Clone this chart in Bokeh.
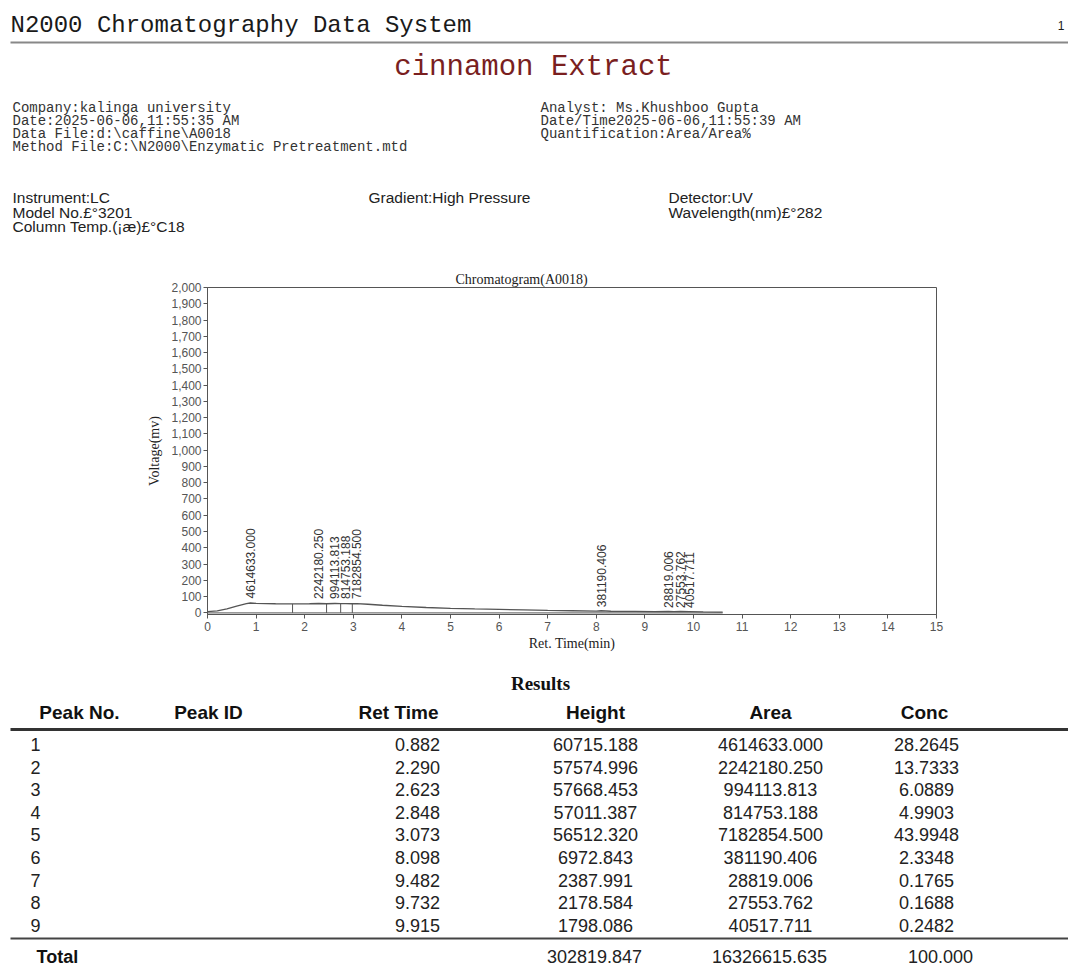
import math
from bokeh.plotting import figure
from bokeh.models import FixedTicker, NumeralTickFormatter, Range1d
from bokeh.embed import file_html
from bokeh.resources import INLINE
from bokeh.core.properties import value

# ---------------- data ----------------
header_title = "N2000 Chromatography Data System"
page_no = "1"
sample_name = "cinnamon Extract"
info_left = ["Company:kalinga university",
             "Date:2025-06-06,11:55:35 AM",
             "Data File:d:\\caffine\\A0018",
             "Method File:C:\\N2000\\Enzymatic Pretreatment.mtd"]
info_right = ["Analyst: Ms.Khushboo Gupta",
              "Date/Time2025-06-06,11:55:39 AM",
              "Quantification:Area/Area%"]
instr_left = ["Instrument:LC", "Model No.\u00a3\u00b03201", "Column Temp.(\u00a1\u00e6)\u00a3\u00b0C18"]
instr_mid = ["Gradient:High Pressure"]
instr_right = ["Detector:UV", "Wavelength(nm)\u00a3\u00b0282"]

chart_title = "Chromatogram(A0018)"
x_label = "Ret. Time(min)"
y_label = "Voltage(mv)"
x_ticks = list(range(0, 16))
y_ticks = list(range(0, 2001, 100))

# chromatogram trace (min, mV)
trace_t = [0.0, 0.2, 0.4, 0.6, 0.8, 0.882, 1.0, 1.4, 1.75, 2.1, 2.29, 2.45, 2.623, 2.74,
           2.848, 2.98, 3.073, 3.3, 3.6, 4.0, 4.5, 5.0, 5.5, 6.0, 6.5, 7.0, 7.5, 8.0,
           8.098, 8.3, 8.8, 9.2, 9.482, 9.6, 9.732, 9.915, 10.2, 10.6]
trace_v = [8, 12, 24, 42, 57, 60.7, 58, 56, 55, 56, 57.6, 56, 57.7, 56.5,
           57.0, 56, 56.5, 53, 47, 40, 33, 28, 24, 21, 18, 15, 13, 11,
           13, 10, 9, 8, 9, 8, 8.5, 8, 6, 5]
baseline_t = [0.0, 10.6]
baseline_v = [0, 0]
boundary_t = [1.75, 2.45, 2.74, 2.98]
boundary_v = [55, 56, 56.5, 56]

table_title = "Results"
col_heads = ["Peak No.", "Peak ID", "Ret Time", "Height", "Area", "Conc"]
peak_no = ["1", "2", "3", "4", "5", "6", "7", "8", "9"]
ret_time = ["0.882", "2.290", "2.623", "2.848", "3.073", "8.098", "9.482", "9.732", "9.915"]
height = ["60715.188", "57574.996", "57668.453", "57011.387", "56512.320",
          "6972.843", "2387.991", "2178.584", "1798.086"]
area = ["4614633.000", "2242180.250", "994113.813", "814753.188", "7182854.500",
        "381190.406", "28819.006", "27553.762", "40517.711"]
conc = ["28.2645", "13.7333", "6.0889", "4.9903", "43.9948", "2.3348", "0.1765", "0.1688", "0.2482"]
total_label = "Total"
total_height = "302819.847"
total_area = "16326615.635"
total_conc = "100.000"

W = 1068
MONO = value("Liberation Mono")
SANS = value("Liberation Sans")
SERIF = value("Liberation Serif")


def blank(h):
    p = figure(width=W, height=h, x_range=Range1d(0, W), y_range=Range1d(h, 0),
               x_axis_location=None, y_axis_location=None, output_backend="svg",
               toolbar_location=None, min_border=0)
    p.grid.visible = False
    p.outline_line_color = None
    return p


# ---------------- header ----------------
H1 = 262
head = blank(H1)
head.text(x=[10], y=[25], text=[header_title], text_font=MONO, text_font_size="24px",
          text_baseline="middle", text_color="#1a1a1a")
head.text(x=[1064], y=[25], text=[page_no], text_font=SANS, text_font_size="12px",
          text_baseline="middle", text_align="right", text_color="#1a1a1a")
head.segment(x0=[10], y0=[42], x1=[1068], y1=[42], line_color="#888888", line_width=2)
head.text(x=[533], y=[67], text=[sample_name], text_font=MONO, text_font_size="29px",
          text_baseline="middle", text_align="center", text_color="#7a1f1f")
ys_info = [107 + 13 * i for i in range(4)]
head.text(x=[12] * len(info_left), y=ys_info[:len(info_left)], text=info_left, text_font=MONO,
          text_font_size="14px", text_baseline="middle", text_color="#333333")
head.text(x=[540] * len(info_right), y=ys_info[:len(info_right)], text=info_right, text_font=MONO,
          text_font_size="14px", text_baseline="middle", text_color="#333333")
ys_instr = [197 + 14.5 * i for i in range(3)]
instr_font = dict(text_font=SANS, text_font_size="15.5px", text_baseline="middle",
                  text_color="#222222")
head.text(x=[12] * len(instr_left), y=ys_instr[:len(instr_left)], text=instr_left, **instr_font)
head.text(x=[368] * len(instr_mid), y=ys_instr[:len(instr_mid)], text=instr_mid, **instr_font)
head.text(x=[668] * len(instr_right), y=ys_instr[:len(instr_right)], text=instr_right, **instr_font)

# ---------------- chromatogram ----------------
H2 = 400
chart = figure(width=W, height=H2, x_range=Range1d(0, 15), y_range=Range1d(-10, 2000),
               output_backend="svg", toolbar_location=None,
               min_border_left=207, min_border_right=132, min_border_top=25, min_border_bottom=48)
chart.grid.visible = False
chart.outline_line_color = "#555555"
chart.title.text = chart_title
chart.title.align = "left"
chart.title.offset = 248
chart.title.text_font = "Liberation Serif"
chart.title.text_font_size = "14px"
chart.title.text_font_style = "normal"
chart.title.text_color = "#222222"
chart.title.standoff = 1

for ax in (chart.xaxis[0], chart.yaxis[0]):
    ax.axis_line_color = "#555555"
    ax.major_tick_line_color = "#555555"
    ax.major_tick_out = 4
    ax.major_tick_in = 0
    ax.minor_tick_line_color = None
    ax.major_label_text_font = "Liberation Sans"
    ax.major_label_text_font_size = "12px"
    ax.major_label_text_color = "#555555"
    ax.axis_label_text_font = "Liberation Serif"
    ax.axis_label_text_font_size = "14px"
    ax.axis_label_text_font_style = "normal"
    ax.axis_label_text_color = "#222222"

chart.xaxis.ticker = FixedTicker(ticks=x_ticks)
chart.yaxis.ticker = FixedTicker(ticks=y_ticks)
chart.yaxis.formatter = NumeralTickFormatter(format="0,0")
chart.xaxis.axis_label = x_label
chart.yaxis.axis_label = y_label
chart.xaxis.major_label_standoff = 3
chart.yaxis.major_label_standoff = 2
chart.xaxis.axis_label_standoff = 2
chart.yaxis.axis_label_standoff = 6

chart.line(baseline_t, baseline_v, line_color="#777777", line_width=1.2)
chart.line(trace_t, trace_v, line_color="#555555", line_width=1.3)
chart.segment(x0=boundary_t, y0=[0] * len(boundary_t), x1=boundary_t, y1=boundary_v,
              line_color="#555555", line_width=1)

lab_x = [float(t) for t in ret_time]
lab_y = [float(h) / 1000.0 + 28 for h in height]
chart.text(x=lab_x, y=lab_y, text=area, angle=math.pi / 2, text_font=SANS,
           text_font_size="12px", text_align="left", text_baseline="middle",
           text_color="#333333")

# ---------------- results table ----------------
H3 = 304
tab = blank(H3)
tab.text(x=[540], y=[21], text=[table_title], text_font=SERIF, text_font_size="19px",
         text_font_style="bold", text_align="center", text_baseline="middle", text_color="#111111")
head_x = [79, 208, 398, 595, 770, 924]
tab.text(x=head_x, y=[50] * len(col_heads), text=col_heads, text_font=SANS, text_font_size="19px",
         text_font_style="bold", text_align="center", text_baseline="middle", text_color="#111111")
tab.segment(x0=[10], y0=[67], x1=[1068], y1=[67], line_color="#333333", line_width=3)
row_y = [82 + 22.6 * i for i in range(len(peak_no))]
n = len(peak_no)
row_font = dict(text_font=SANS, text_font_size="18px", text_align="center",
                text_baseline="middle", text_color="#222222")
tab.text(x=[35] * n, y=row_y, text=peak_no, **row_font)
tab.text(x=[417] * n, y=row_y, text=ret_time, **row_font)
tab.text(x=[595] * n, y=row_y, text=height, **row_font)
tab.text(x=[770] * n, y=row_y, text=area, **row_font)
tab.text(x=[926] * n, y=row_y, text=conc, **row_font)
tab.segment(x0=[10], y0=[276], x1=[1068], y1=[276], line_color="#444444", line_width=2)
tab.text(x=[36], y=[294], text=[total_label], text_font=SANS, text_font_size="18px",
         text_font_style="bold", text_align="left", text_baseline="middle", text_color="#111111")
tab.text(x=[594, 769, 940], y=[294] * 3, text=[total_height, total_area, total_conc], **row_font)

open("out.html", "w").write(file_html([head, chart, tab], INLINE))
